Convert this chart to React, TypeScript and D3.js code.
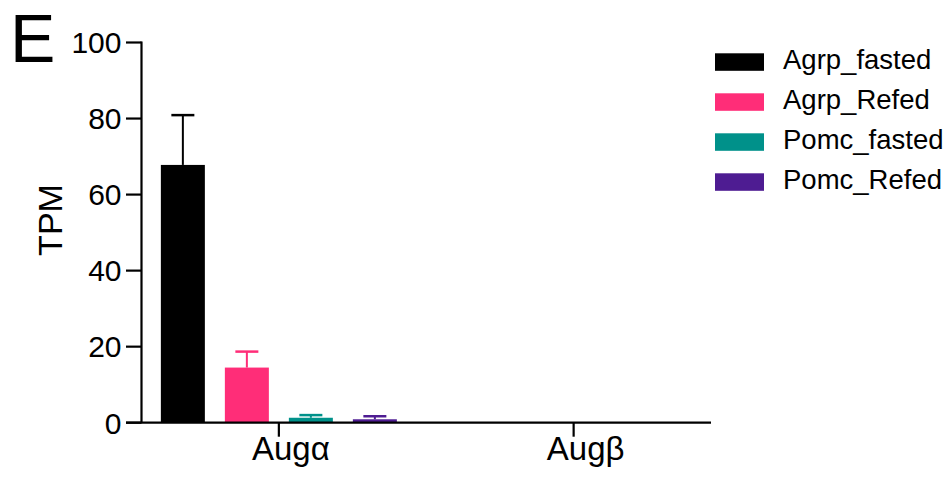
import React from "react";
import * as d3 from "d3";

const categories = ["Aug\u03b1", "Aug\u03b2"];
const seriesNames = ["Agrp_fasted", "Agrp_Refed", "Pomc_fasted", "Pomc_Refed"];
const seriesColors = ["#000000", "#FF2D78", "#00918A", "#4E1C92"];
const meanAug_alpha = [67.8, 14.5, 1.3, 0.9];
const errAug_alpha = [13.1, 4.2, 0.7, 0.8];
const meanAug_beta = [0, 0, 0, 0];
const errAug_beta = [0, 0, 0, 0];
const yTicks = [0, 20, 40, 60, 80, 100];

const means = [meanAug_alpha, meanAug_beta];
const errs = [errAug_alpha, errAug_beta];

const W = 949;
const H = 479;
const FONT = "'Liberation Sans', Arial, Helvetica, sans-serif";

export default function App() {
  const x0 = 141.5;
  const xEnd = 711;
  const y = d3.scaleLinear().domain([0, 100]).range([422.7, 42.5]);
  const xc = d3.scalePoint<string>().domain(categories).range([x0, xEnd]).padding(0.466);
  const barStep = 64;
  const barW = 44;
  const capW = 23;
  const offs = seriesNames.map((_, i) => (i - (seriesNames.length - 1) / 2) * barStep);

  return (
    <svg width={W} height={H} style={{ position: "absolute", left: 0, top: 0, background: "#fff" }} fontFamily={FONT}>
      <rect width={W} height={H} fill="#fff" />
      <text x={10} y={62} fontSize={68}>E</text>
      {/* bars */}
      {categories.map((c, ci) =>
        seriesNames.map((s, si) => {
          const cx = (xc(c) as number) + offs[si];
          const v = means[ci][si];
          const e = errs[ci][si];
          if (v <= 0) return null;
          return (
            <g key={c + s}>
              <rect x={cx - barW / 2} y={y(v)} width={barW} height={y(0) - y(v)} fill={seriesColors[si]} />
              <line x1={cx} x2={cx} y1={y(v)} y2={y(v + e)} stroke={seriesColors[si]} strokeWidth={2} />
              <line x1={cx - capW / 2} x2={cx + capW / 2} y1={y(v + e)} y2={y(v + e)} stroke={seriesColors[si]} strokeWidth={2.5} />
            </g>
          );
        })
      )}
      {/* y axis */}
      <line x1={x0} x2={x0} y1={y(100) - 1} y2={y(0)} stroke="#000" strokeWidth={2.2} />
      {yTicks.map((t) => (
        <g key={t}>
          <line x1={x0 - 15.5} x2={x0} y1={y(t)} y2={y(t)} stroke="#000" strokeWidth={2.2} />
          <text x={x0 - 20} y={y(t)} dy="0.36em" textAnchor="end" fontSize={30}>{t}</text>
        </g>
      ))}
      {/* x axis */}
      <line x1={x0 - 15.5} x2={xEnd} y1={y(0)} y2={y(0)} stroke="#000" strokeWidth={2.2} />
      {categories.map((c) => (
        <g key={c}>
          <line x1={xc(c) as number} x2={xc(c) as number} y1={y(0)} y2={y(0) + 14} stroke="#000" strokeWidth={2.2} />
          <text x={(xc(c) as number) + 12} y={460} textAnchor="middle" fontSize={33}>{c}</text>
        </g>
      ))}
      <text transform="translate(62,220) rotate(-90)" textAnchor="middle" fontSize={34}>TPM</text>
      {/* legend */}
      {seriesNames.map((s, i) => (
        <g key={s} transform={`translate(715, ${53.3 + i * 40})`}>
          <rect x={0} y={0} width={49} height={17.5} fill={seriesColors[i]} />
          <text x={68} y={15.5} fontSize={27.5}>{s}</text>
        </g>
      ))}
    </svg>
  );
}
